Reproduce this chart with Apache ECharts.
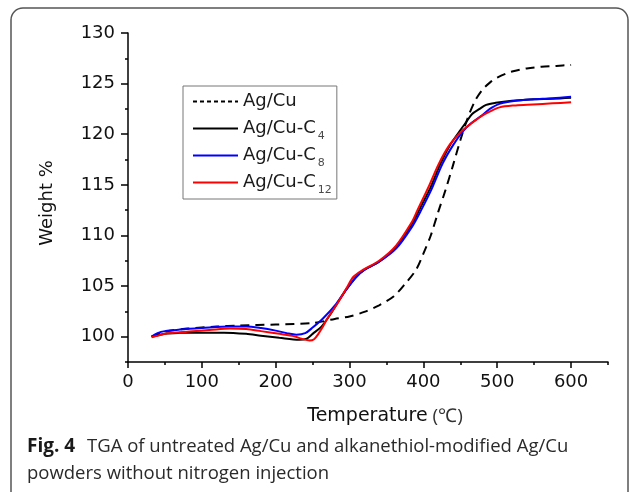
<!DOCTYPE html>
<html>
<head>
<meta charset="utf-8">
<script src="https://cdn.jsdelivr.net/npm/echarts@6/dist/echarts.min.js"></script>
<style>
  html, body { margin: 0; padding: 0; background: #fff; }
  #chart { width: 630px; height: 492px; }
</style>
</head>
<body>
<div id="chart"></div>
<script>
// TGA curves: temperature (°C) vs weight (%)
const agCuTemp = [32, 50, 80, 120, 150, 200, 250, 280, 300, 320, 340, 360, 375, 390, 400, 410, 420, 430, 440, 450, 460, 470, 480, 490, 500, 520, 540, 560, 580, 600];
const agCuWeight = [100.0, 100.5, 100.8, 101.0, 101.1, 101.2, 101.35, 101.75, 102.0, 102.45, 103.1, 104.0, 105.2, 106.6, 108.2, 110.0, 112.3, 114.5, 116.9, 119.4, 121.6, 123.3, 124.4, 125.1, 125.6, 126.2, 126.5, 126.67, 126.75, 126.85];

const c4Temp = [32, 50, 70, 100, 130, 160, 180, 205, 232, 242, 250, 262, 273, 286, 296, 309, 320, 340, 363, 385, 399, 410, 422, 435, 448, 458, 466, 476, 485, 498, 520, 548, 575, 600];
const c4Weight = [100.0, 100.3, 100.38, 100.4, 100.4, 100.28, 100.1, 99.89, 99.7, 99.8, 100.28, 101.0, 102.1, 103.6, 104.7, 105.9, 106.6, 107.4, 108.85, 111.2, 113.2, 114.8, 116.9, 118.8, 120.2, 121.2, 122.0, 122.5, 122.9, 123.1, 123.3, 123.45, 123.5, 123.6];

const c8Temp = [32, 40, 50, 70, 100, 138, 160, 180, 200, 215, 228, 240, 250, 264, 282, 295, 309, 320, 340, 363, 385, 397, 410, 426, 440, 453, 465, 480, 490, 503, 525, 548, 575, 600];
const c8Weight = [100.0, 100.35, 100.55, 100.7, 100.85, 101.0, 101.0, 100.85, 100.6, 100.35, 100.2, 100.35, 100.9, 101.8, 103.25, 104.6, 105.9, 106.6, 107.4, 108.7, 110.9, 112.5, 114.4, 117.1, 118.9, 120.24, 121.1, 121.9, 122.5, 123.0, 123.3, 123.44, 123.55, 123.7];

const c12Temp = [32, 40, 50, 80, 110, 138, 160, 180, 205, 225, 235, 246, 252, 258, 264, 270, 282, 296, 305, 318, 340, 363, 385, 392, 407, 421, 435, 449, 460, 471, 485, 503, 525, 548, 575, 600];
const c12Weight = [99.95, 100.1, 100.3, 100.5, 100.65, 100.8, 100.75, 100.55, 100.28, 100.05, 99.8, 99.62, 99.75, 100.3, 101.0, 101.8, 103.1, 104.8, 105.9, 106.6, 107.5, 109.0, 111.4, 112.5, 114.8, 117.1, 118.9, 120.1, 120.8, 121.4, 122.05, 122.65, 122.85, 122.94, 123.05, 123.15];

const seriesNames = ['Ag/Cu', 'Ag/Cu-C4', 'Ag/Cu-C8', 'Ag/Cu-C12'];
const xMajorTicks = [0, 100, 200, 300, 400, 500, 600];
const yMajorTicks = [100, 105, 110, 115, 120, 125, 130];

const axisFont = 'DejaVu Sans';
const captionFont = 'Open Sans';

function pairs(xs, ys) {
  return xs.map((x, i) => [x, ys[i]]);
}

const chart = echarts.init(document.getElementById('chart'));

const baseLine = {
  type: 'line',
  showSymbol: false,
  symbol: 'none',
  smooth: 0.3,
};

const option = {
  animation: false,
  grid: { left: 128, right: 22, top: 33, bottom: 130 },
  legend: {
    orient: 'vertical',
    left: 183,
    top: 86,
    itemWidth: 45,
    itemHeight: 12,
    itemGap: 0,
    padding: [2, 5, 3, 9],
    borderColor: '#777',
    borderWidth: 1,
    itemStyle: { opacity: 0 },
    data: [
      { name: 'Ag/Cu', lineStyle: { type: [4, 3], width: 2 } },
      { name: 'Ag/Cu-C4' },
      { name: 'Ag/Cu-C8' },
      { name: 'Ag/Cu-C12' },
    ],
    formatter: (name) => {
      const m = name.match(/^(Ag\/Cu-C)(\d+)$/);
      if (m) {
        return `{b|${m[1]}}{s|${m[2]}}`;
      }
      return `{b|${name}}`;
    },
    textStyle: {
      fontFamily: axisFont,
      fontSize: 18,
      color: '#1a1a1a',
      rich: {
        b: { fontFamily: axisFont, fontSize: 18, lineHeight: 27, height: 27, color: '#1a1a1a' },
        s: { fontFamily: axisFont, fontSize: 11, lineHeight: 13, verticalAlign: 'bottom', padding: [0, 0, 0, 2], color: '#4a4a4a' },
      },
    },
  },
  xAxis: [
    {
      type: 'value',
      min: 0,
      max: 650,
      interval: 50,
      splitLine: { show: false },
      axisLine: { lineStyle: { color: '#000', width: 1.5 } },
      axisTick: { length: 3, lineStyle: { color: '#000', width: 1.5 } },
      axisLabel: {
        margin: 11,
        fontFamily: axisFont,
        fontSize: 18,
        color: '#111',
        formatter: (v) => (v % 100 === 0 ? String(v) : ''),
      },
      name: '{t|Temperature}{u| (℃)}',
      nameLocation: 'middle',
      nameGap: 45,
      nameTextStyle: {
        padding: [0, 0, 0, 34],
        rich: {
          t: { fontFamily: axisFont, fontSize: 19, color: '#111' },
          u: { fontFamily: captionFont, fontSize: 19, color: '#333' },
        },
      },
    },
    {
      // longer ticks at the labelled values
      type: 'value',
      min: 0,
      max: 650,
      position: 'bottom',
      splitLine: { show: false },
      axisLine: { show: false },
      axisLabel: { show: false },
      axisTick: { customValues: xMajorTicks, length: 6, lineStyle: { color: '#000', width: 1.5 } },
    },
  ],
  yAxis: [
    {
      type: 'value',
      min: 97.5,
      max: 130,
      interval: 2.5,
      splitLine: { show: false },
      axisLine: { show: true, lineStyle: { color: '#000', width: 1.5 } },
      axisTick: { show: true, length: 3, lineStyle: { color: '#000', width: 1.5 } },
      axisLabel: {
        margin: 13,
        fontFamily: axisFont,
        fontSize: 18,
        color: '#111',
        formatter: (v) => (v % 5 === 0 ? String(v) : ''),
      },
      name: 'Weight %',
      nameLocation: 'middle',
      nameGap: 72,
      nameRotate: 90,
      nameTextStyle: {
        fontFamily: axisFont,
        fontSize: 18,
        color: '#111',
        padding: [0, 11, 0, 0],
      },
    },
    {
      type: 'value',
      min: 97.5,
      max: 130,
      position: 'left',
      splitLine: { show: false },
      axisLine: { show: false },
      axisLabel: { show: false },
      axisTick: { show: true, customValues: yMajorTicks, length: 7, lineStyle: { color: '#000', width: 1.5 } },
    },
  ],
  series: [
    Object.assign({}, baseLine, {
      name: seriesNames[0],
      data: pairs(agCuTemp, agCuWeight),
      lineStyle: { color: '#000', width: 2, type: [9, 6] },
      itemStyle: { color: '#000' },
    }),
    Object.assign({}, baseLine, {
      name: seriesNames[1],
      data: pairs(c4Temp, c4Weight),
      lineStyle: { color: '#000', width: 2 },
      itemStyle: { color: '#000' },
    }),
    Object.assign({}, baseLine, {
      name: seriesNames[2],
      data: pairs(c8Temp, c8Weight),
      lineStyle: { color: '#0000ff', width: 2 },
      itemStyle: { color: '#0000ff' },
    }),
    Object.assign({}, baseLine, {
      name: seriesNames[3],
      data: pairs(c12Temp, c12Weight),
      lineStyle: { color: '#ff0000', width: 2 },
      itemStyle: { color: '#ff0000' },
    }),
  ],
  graphic: [
    {
      // figure frame, open at the bottom edge of the page
      type: 'rect',
      shape: { x: 11, y: 8, width: 617, height: 500, r: 12 },
      style: { fill: 'none', stroke: '#555', lineWidth: 1.5 },
      silent: true,
    },
    {
      type: 'text',
      x: 27,
      y: 447,
      style: {
        text: 'Fig. 4',
        font: `bold 19px "${captionFont}"`,
        fill: '#1a1a1a',
        verticalAlign: 'middle',
      },
    },
    {
      type: 'text',
      x: 87,
      y: 447,
      style: {
        text: 'TGA of untreated Ag/Cu and alkanethiol-modified Ag/Cu',
        font: `18.5px "${captionFont}"`,
        fill: '#2a2a2a',
        verticalAlign: 'middle',
      },
    },
    {
      type: 'text',
      x: 27,
      y: 474,
      style: {
        text: 'powders without nitrogen injection',
        font: `18.5px "${captionFont}"`,
        fill: '#2a2a2a',
        verticalAlign: 'middle',
      },
    },
  ],
};

chart.setOption(option);
</script>
</body>
</html>
